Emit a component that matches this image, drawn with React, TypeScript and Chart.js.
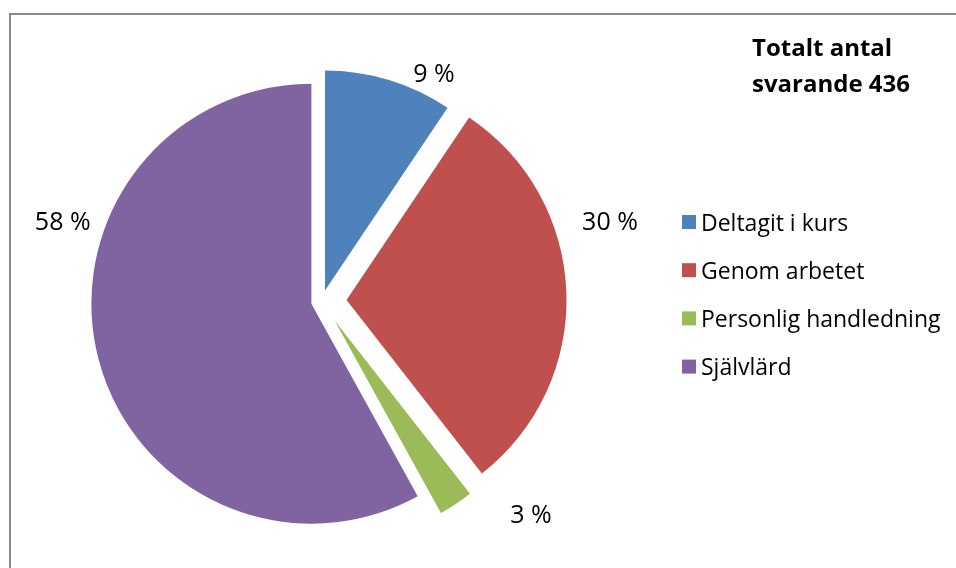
import React, { useEffect, useRef } from 'react';
import { Chart, registerables } from 'chart.js';

Chart.register(...registerables);

// ---- data ----
const categories = ['Deltagit i kurs', 'Genom arbetet', 'Personlig handledning', 'Självlärd'];
const respondents = [41, 131, 11, 253];
const totalRespondents = 436;
const titleLines = ['Totalt antal', `svarande ${totalRespondents}`];

// ---- style ----
const sliceColors = ['#4F81BD', '#C0504D', '#9BBB59', '#8064A2'];
const W = 956;
const H = 568;
const PIE_RADIUS = 220;
const EXPLODE = [44, 99, 93, 43];
const LABEL_SHIFT_DEG = [9.7, -14.6, -11.9, 32.8];
const LABEL_DIST = [243, 275, 276, 262];
const FONT = '"Open Sans", "Noto Sans", sans-serif';
const LABEL_FONT_SIZE = 25;
const LEGEND = { x: 682, top: 215, pitch: 48.2, box: 14, textX: 701, fontSize: 23, baseline: 15.7 };
const TITLE = { x: 752, baselines: [56, 92], fontSize: 24 };

const pct = (v: number) => `${Math.round((v / totalRespondents) * 100)} %`;

const explodeFix = {
  id: 'explodeFix',
  afterDatasetUpdate(chart: any, args: any) {
    const meta = chart.getDatasetMeta(args.index);
    meta.data.forEach((el: any) => {
      const off = ((el.options && el.options.offset) || 0) / 4;
      const fix = 1 - Math.sin(Math.min(Math.PI, el.circumference || 0));
      const ro = off * fix;
      el.outerRadius = PIE_RADIUS - ro;
      const da = ro / Math.PI / PIE_RADIUS / 2;
      el.startAngle -= da;
      el.endAngle += da;
    });
  },
};

const frame = {
  id: 'frame',
  beforeDraw(chart: any) {
    const ctx = chart.ctx;
    ctx.save();
    ctx.strokeStyle = '#898989';
    ctx.lineWidth = 2;
    ctx.beginPath();
    ctx.moveTo(10, H + 5);
    ctx.lineTo(10, 14);
    ctx.lineTo(W + 5, 14);
    ctx.stroke();
    ctx.restore();
  },
};

const decorations = {
  id: 'decorations',
  afterDraw(chart: any) {
    const ctx = chart.ctx;
    const meta = chart.getDatasetMeta(0);
    ctx.save();
    // percentage labels
    ctx.font = `${LABEL_FONT_SIZE}px ${FONT}`;
    ctx.fillStyle = '#000';
    ctx.textAlign = 'center';
    ctx.textBaseline = 'alphabetic';
    meta.data.forEach((el: any, i: number) => {
      const half = (el.startAngle + el.endAngle) / 2;
      const t = ((el.options && el.options.offset) || 0) / 4;
      const vx = el.x + Math.cos(half) * t;
      const vy = el.y + Math.sin(half) * t;
      const a = half + (LABEL_SHIFT_DEG[i] * Math.PI) / 180;
      const cx = vx + Math.cos(a) * LABEL_DIST[i];
      const cy = vy + Math.sin(a) * LABEL_DIST[i];
      ctx.fillText(pct(respondents[i]), cx, cy + LABEL_FONT_SIZE * 0.357);
    });
    // legend
    ctx.font = `${LEGEND.fontSize}px ${FONT}`;
    ctx.textAlign = 'left';
    categories.forEach((c, i) => {
      const y = LEGEND.top + i * LEGEND.pitch;
      ctx.fillStyle = sliceColors[i];
      ctx.fillRect(LEGEND.x, y, LEGEND.box, LEGEND.box);
      ctx.fillStyle = '#000';
      ctx.fillText(c, LEGEND.textX, y + LEGEND.baseline);
    });
    // title
    ctx.font = `bold ${TITLE.fontSize}px ${FONT}`;
    titleLines.forEach((line, i) => {
      ctx.fillText(line, TITLE.x, TITLE.baselines[i]);
    });
    ctx.restore();
  },
};

export default function App() {
  const ref = useRef<HTMLCanvasElement | null>(null);
  useEffect(() => {
    if (!ref.current) return;
    const chart = new Chart(ref.current, {
      type: 'pie',
      data: {
        labels: categories,
        datasets: [
          {
            data: respondents,
            backgroundColor: sliceColors,
            borderWidth: 0,
            offset: EXPLODE,
            radius: PIE_RADIUS,
          } as any,
        ],
      },
      options: {
        responsive: false,
        animation: false,
        events: [],
        layout: { padding: { left: 0, top: 34, right: W - 643.6, bottom: 0 } },
        plugins: {
          legend: { display: false },
          title: { display: false },
          tooltip: { enabled: false },
        },
      },
      plugins: [explodeFix, frame, decorations],
    });
    return () => chart.destroy();
  }, []);
  return (
    <div style={{ position: 'fixed', left: 0, top: 0, width: W, height: H, background: '#fff', overflow: 'hidden' }}>
      <canvas ref={ref} width={W} height={H} style={{ display: 'block' }} />
    </div>
  );
}
